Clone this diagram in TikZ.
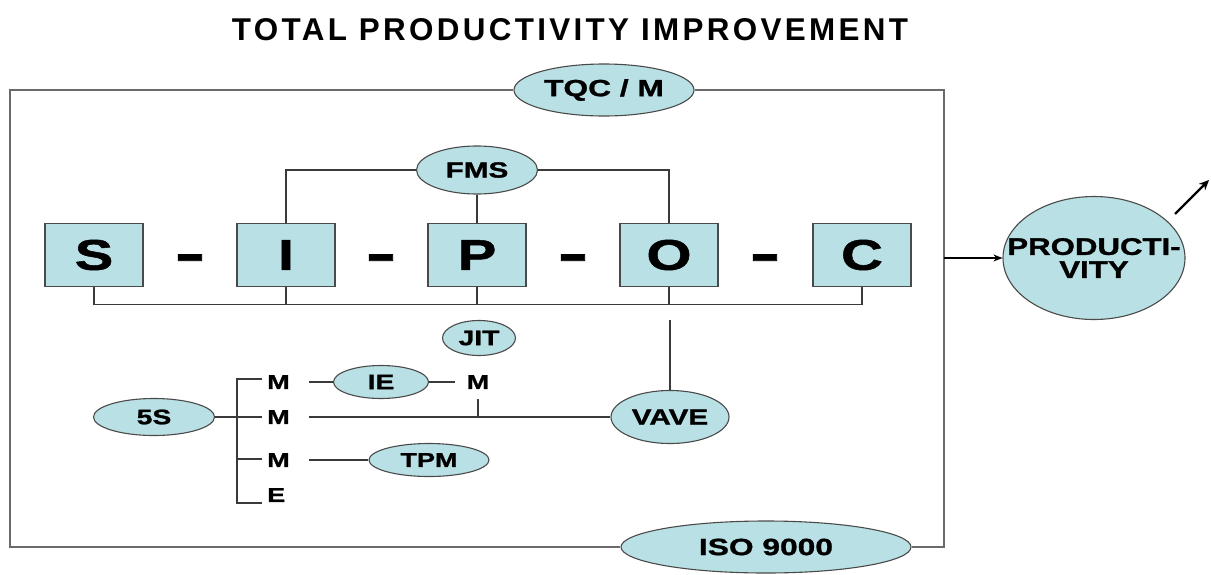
\documentclass[tikz,border=0pt]{standalone}
\usepackage{fontspec}
\usepackage{graphicx}
\setmainfont{Liberation Sans}
\newfontfamily\lab{Liberation Sans}[FakeStretch=1.35,FakeBold=1.2]
\newfontfamily\labb{Liberation Sans}[FakeStretch=1.3,FakeBold=1.2]
\newfontfamily\ttl{Liberation Sans}[LetterSpace=9,FakeStretch=0.85]
\usetikzlibrary{shapes.geometric,arrows.meta}
\definecolor{fillc}{HTML}{B9E0E4}
\definecolor{edgec}{HTML}{4A4A4A}
\definecolor{linec}{HTML}{3A3A3A}
\definecolor{framec}{HTML}{6A6A6A}
\tikzset{
  oval/.style={ellipse, draw=edgec, line width=1.1pt, fill=fillc, inner sep=0pt},
  letterbox/.style={rectangle, draw=edgec, line width=1.1pt, fill=fillc, minimum width=98pt, minimum height=63pt, inner sep=0pt, font=\lab\bfseries\fontsize{43}{43}\selectfont},
  dashlbl/.style={anchor=base, inner sep=0pt, font=\lab\bfseries\fontsize{43}{43}\selectfont},
  mlbl/.style={anchor=west, inner sep=0pt, font=\lab\bfseries\fontsize{20}{20}\selectfont},
  conn/.style={draw=linec, line width=1.1pt},
  framel/.style={draw=framec, line width=1.6pt},
  arr/.style={draw=black, line width=1.6pt, -{Stealth[length=9pt,width=7pt]}},
  arrb/.style={draw=black, line width=2.4pt, -{Stealth[length=10pt,width=9pt]}},
  fa/.style={font=\lab\bfseries\fontsize{21}{21}\selectfont},
  fb/.style={font=\lab\bfseries\fontsize{22}{22}\selectfont},
  fc/.style={font=\lab\bfseries\fontsize{23.5}{23.5}\selectfont},
}
\begin{document}
\begin{tikzpicture}[x=1pt,y=-1pt]
\useasboundingbox (0,0) rectangle (1211,574);
\node[inner sep=0pt] (title) at (570,30) {\resizebox{676pt}{22pt}{\ttl\bfseries TOTAL PRODUCTIVITY IMPROVEMENT}};

% frame
\coordinate (ftl) at (10,90);
\coordinate (fbl) at (10,547);
\coordinate (ftr) at (944,90);
\coordinate (fbr) at (944,547);
\coordinate (fmid) at (944,258);

\node[oval, minimum width=180pt, minimum height=52pt, fc] (tqc) at (604,90) {TQC / M};
\node[oval, minimum width=290pt, minimum height=52pt, fc] (iso) at (766,547) {ISO 9000};
\draw[framel] (tqc.west) -- (ftl) -- (fbl) -- (iso.west);
\draw[framel] (tqc.east) -- (ftr) -- (fbr) -- (iso.east);

% SIPOC
\node[letterbox] (s) at (94,255) {S};
\node[letterbox] (i) at (286,255) {I};
\node[letterbox] (p) at (477,255) {P};
\node[letterbox] (o) at (669,255) {O};
\node[letterbox] (c) at (862,255) {C};
\node[dashlbl] (d1) at (190,271) {\scalebox{1.6}[1.2]{-}};
\node[dashlbl] (d2) at (381,271) {\scalebox{1.6}[1.2]{-}};
\node[dashlbl] (d3) at (573,271) {\scalebox{1.6}[1.2]{-}};
\node[dashlbl] (d4) at (765,271) {\scalebox{1.6}[1.2]{-}};

\node[oval, minimum width=121pt, minimum height=48pt, fb] (fms) at (477,170) {FMS};
\draw[conn] (fms.west) -| (i.north);
\draw[conn] (fms.east) -| (o.north);
\draw[conn] (fms.south) -- (p.north);

\draw[conn] (s.south) -- ++(0,17) -| (c.south);
\draw[conn] (i.south) -- ++(0,17);
\draw[conn] (p.south) -- ++(0,17);
\draw[conn] (o.south) -- ++(0,17);

\node[oval, minimum width=73pt, minimum height=35pt, fa] (jit) at (479,338) {JIT};
\node[oval, minimum width=118pt, minimum height=53pt, fb] (vave) at (670,417) {VAVE};
\draw[conn] (vave.north) -- (vave.north |- jit.north);

% productivity
\node[oval, minimum width=182pt, minimum height=123pt] (prod) at (1094,258) {};
\node[inner sep=0pt, align=center, font=\labb\bfseries\fontsize{24}{23}\selectfont] (prodtxt) at (prod.center) {PRODUCTI-\\VITY};
\draw[arr] (fmid) -- (prod.west);
\coordinate (u1) at (1175,214);
\coordinate (u2) at (1209,180);
\draw[arrb] (u1) -- (u2);

% left group
\node[oval, minimum width=121pt, minimum height=37pt, fa] (s5) at (154,417) {5S};
\node[mlbl] (m1) at (267,382) {M};
\node[mlbl] (m2) at (267,417) {M};
\node[mlbl] (m3) at (267,460) {M};
\node[mlbl] (e1) at (267,495) {E};
\node[inner sep=0pt, font=\lab\bfseries\fontsize{20}{20}\selectfont] (mr) at (478,382) {M};
\node[oval, minimum width=95pt, minimum height=33pt, fa] (ie) at (381,382) {IE};
\node[oval, minimum width=120pt, minimum height=33pt, font=\lab\bfseries\fontsize{20}{20}\selectfont] (tpm) at (429,460) {TPM};

\coordinate (brt) at (237,379);
\coordinate (brb) at (237,503);
\coordinate (t1) at (262,379);
\coordinate (t2) at (262,417);
\coordinate (t3) at (262,459);
\coordinate (t4) at (262,503);
\draw[conn] (t1) -- (brt) -- (brb) -- (t4);
\draw[conn] (s5.east) -- (t2);
\draw[conn] (brt |- t3) -- (t3);

\draw[conn] ([xshift=19pt]m1.east) -- (ie.west);
\draw[conn] (ie.east) -- ([xshift=-12pt]mr.west);
\draw[conn] ([xshift=19pt]m2.east) -- (vave.west);
\draw[conn] ([yshift=-10pt]mr.south) -- (mr.south |- m2.center);
\draw[conn] ([xshift=19pt]m3.east) -- (tpm.west);
\end{tikzpicture}
\end{document}
